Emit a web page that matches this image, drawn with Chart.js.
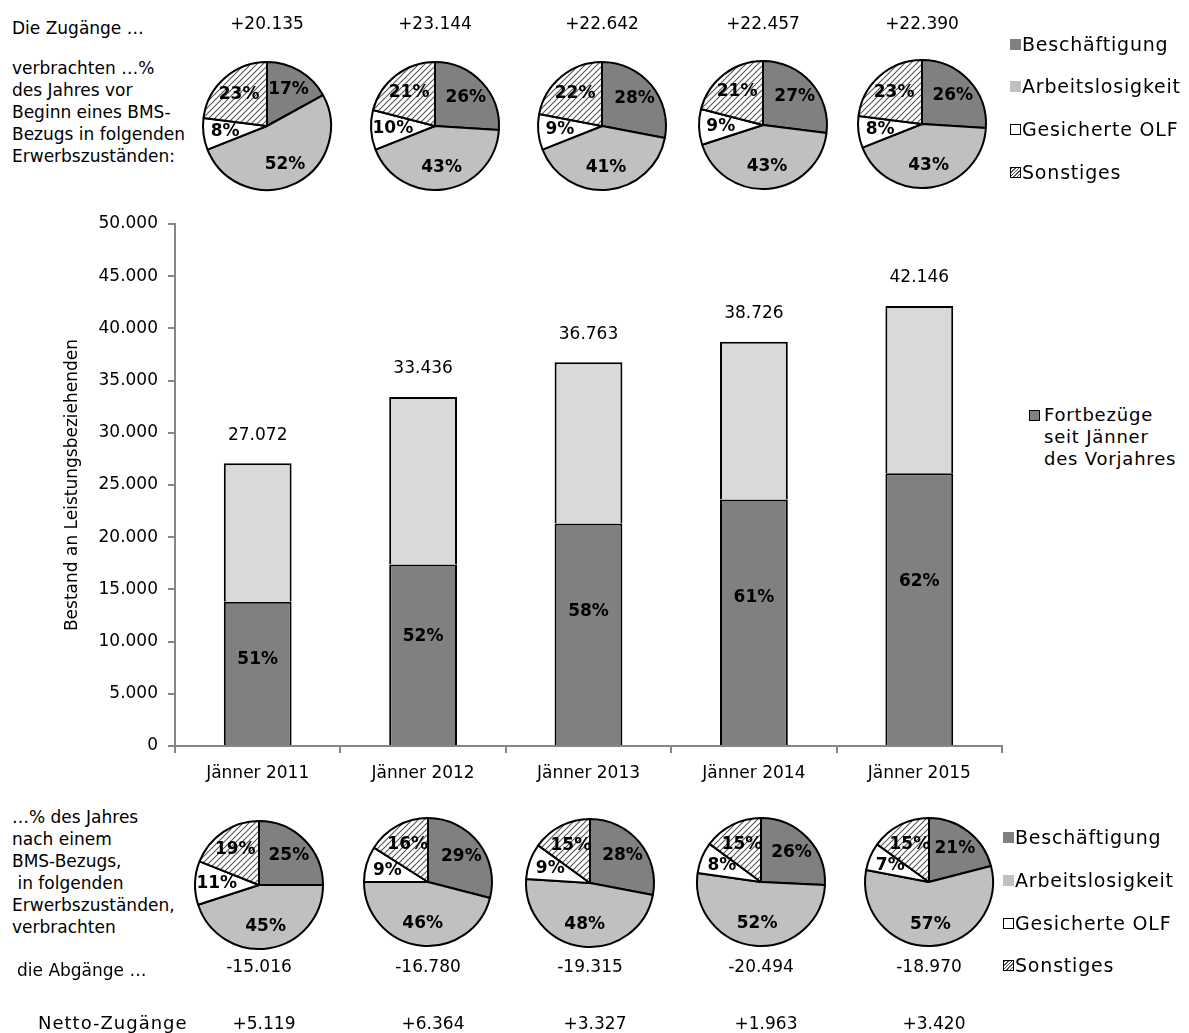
<!DOCTYPE html>
<html>
<head>
<meta charset="utf-8">
<script src="https://cdn.jsdelivr.net/npm/chart.js@4/dist/chart.umd.min.js"></script>
<style>
body{margin:0;background:#fff;color:#000;font-family:"DejaVu Sans",sans-serif;}
#wrap{position:relative;width:1189px;height:1033px;overflow:hidden;}
.t{position:absolute;white-space:pre;line-height:22px;font-size:17px;}
.num{position:absolute;width:140px;text-align:center;line-height:22px;font-size:17px;}
.leg{position:absolute;font-size:19px;line-height:22px;white-space:pre;letter-spacing:0.8px;}
.sq{position:absolute;width:11px;height:11px;box-sizing:border-box;}
canvas.pie{position:absolute;}
#bars{position:absolute;left:0;top:200px;}
</style>
</head>
<body>
<div id="wrap">
  <canvas id="bars" width="1010" height="600"></canvas>
</div>
<script>
// --- data ---
var years = ["Jänner 2011", "Jänner 2012", "Jänner 2013", "Jänner 2014", "Jänner 2015"];
var fortbezug = [13810, 17390, 21320, 23620, 26130];   // dunkel, seit Jänner des Vorjahres
var restBestand = [13262, 16046, 15443, 15106, 16016];  // hell
var totalLabels = ["27.072", "33.436", "36.763", "38.726", "42.146"];
var shareLabels = ["51%", "52%", "58%", "61%", "62%"];

var zugaenge = ["+20.135", "+23.144", "+22.642", "+22.457", "+22.390"];
var abgaenge = ["-15.016", "-16.780", "-19.315", "-20.494", "-18.970"];
var netto = ["+5.119", "+6.364", "+3.327", "+1.963", "+3.420"];

var states = ["Beschäftigung", "Arbeitslosigkeit", "Gesicherte OLF", "Sonstiges"];
// % des Jahres vor Beginn des Bezugs
var vorher = [[17, 52, 8, 23], [26, 43, 10, 21], [28, 41, 9, 22], [27, 43, 9, 21], [26, 43, 8, 23]];
// % des Jahres nach dem Bezug
var nachher = [[25, 45, 11, 19], [29, 46, 9, 16], [28, 48, 9, 15], [26, 52, 8, 15], [21, 57, 7, 15]];

// --- layout ---
var topPies = [[267, 126], [435, 126], [602, 126], [763, 125], [922, 124]];
var botPies = [[259, 885], [428, 882], [590, 883], [761, 882], [929, 882]];
var FONT = '"DejaVu Sans", sans-serif';

var wrap = document.getElementById("wrap");

function hatchPattern(){
	var c = document.createElement("canvas");
	c.width = 6; c.height = 6;
	var g = c.getContext("2d");
	g.fillStyle = "#fff";
	g.fillRect(0, 0, 6, 6);
	g.strokeStyle = "#555";
	g.lineWidth = 1.1;
	g.beginPath();
	g.moveTo(-1, 7); g.lineTo(7, -1);
	g.moveTo(-1, 1); g.lineTo(1, -1);
	g.moveTo(5, 7); g.lineTo(7, 5);
	g.stroke();
	return g.createPattern(c, "repeat");
}
var hatch = hatchPattern();
var pieColors = ["#808080", "#c0c0c0", "#ffffff", hatch];

function addText(cls, x, y, str, extra){
	var d = document.createElement("div");
	d.className = cls;
	d.style.left = x + "px";
	d.style.top = y + "px";
	d.textContent = str;
	if(extra){ Object.assign(d.style, extra); }
	wrap.appendChild(d);
	return d;
}

function addLegend(x, ys){
	states.forEach(function(s, i){
		var sq = document.createElement("div");
		sq.className = "sq";
		sq.style.left = x + "px";
		sq.style.top = (ys[i] - 5) + "px";
		if(i == 0){ sq.style.background = "#808080"; }
		if(i == 1){ sq.style.background = "#c0c0c0"; }
		if(i == 2){ sq.style.background = "#fff"; sq.style.border = "1.5px solid #000"; }
		if(i == 3){
			sq.style.border = "1.5px solid #000";
			sq.style.background = "repeating-linear-gradient(-45deg,#fff 0 1.5px,#555 1.5px 2.5px)";
		}
		wrap.appendChild(sq);
		addText("leg", x + 12, ys[i] - 11, s);
	});
}

var pieLabels = {
	id: "pieLabels",
	afterDatasetsDraw: function(chart){
		var ctx = chart.ctx;
		var meta = chart.getDatasetMeta(0);
		var vals = chart.data.datasets[0].data;
		ctx.save();
		ctx.font = "bold 17px " + FONT;
		ctx.textAlign = "center";
		ctx.textBaseline = "middle";
		ctx.fillStyle = "#000";
		meta.data.forEach(function(arc, i){
			var p = arc.getProps(["x", "y", "startAngle", "endAngle", "outerRadius"], true);
			var a = (p.startAngle + p.endAngle) / 2;
			var r = p.outerRadius * 0.66;
			ctx.fillText(vals[i] + "%", p.x + Math.cos(a) * r, p.y + Math.sin(a) * r);
		});
		ctx.restore();
	}
};

function makePie(center, values){
	var c = document.createElement("canvas");
	c.className = "pie";
	c.width = 150; c.height = 150;
	c.style.left = (center[0] - 75) + "px";
	c.style.top = (center[1] - 75) + "px";
	wrap.appendChild(c);
	new Chart(c, {
		type: "pie",
		data: {
			labels: states,
			datasets: [{
				data: values,
				backgroundColor: pieColors,
				borderColor: "#000",
				borderWidth: 2
			}]
		},
		options: {
			responsive: false,
			animation: false,
			devicePixelRatio: 1,
			radius: 64,
			plugins: { legend: { display: false }, tooltip: { enabled: false } }
		},
		plugins: [pieLabels]
	});
}

topPies.forEach(function(p, i){
	makePie(p, vorher[i]);
	addText("num", p[0] - 70, 12, zugaenge[i]);
});
botPies.forEach(function(p, i){
	makePie(p, nachher[i]);
	addText("num", p[0] - 70, 955, abgaenge[i]);
	addText("num", p[0] - 70 + 5, 1012, netto[i]);
});

addText("t", 12, 17, "Die Zugänge …");
addText("t", 12, 57, "verbrachten …%\ndes Jahres vor\nBeginn eines BMS-\nBezugs in folgenden\nErwerbszuständen:");
addText("t", 12, 806, "…% des Jahres\nnach einem\nBMS-Bezugs,\n in folgenden\nErwerbszuständen,\nverbrachten");
addText("t", 17, 959, "die Abgänge …");
addText("t", 38, 1012, "Netto-Zugänge", { fontSize: "18px", letterSpacing: "1px" });

addLegend(1010, [44, 86, 129, 172]);
addLegend(1003, [837, 880, 923, 965]);

// middle legend
var msq = document.createElement("div");
msq.className = "sq";
msq.style.left = "1029px"; msq.style.top = "410px";
msq.style.background = "#808080"; msq.style.border = "1.5px solid #000";
wrap.appendChild(msq);
addText("leg", 1044, 404, "Fortbezüge\nseit Jänner\ndes Vorjahres", { fontSize: "18px" });

// --- main stacked bars ---
function fmt(v){
	if(v == 0){ return "0"; }
	var s = String(v);
	return s.slice(0, s.length - 3) + "." + s.slice(-3);
}

var barLabels = {
	id: "barLabels",
	afterDatasetsDraw: function(chart){
		var ctx = chart.ctx;
		var dark = chart.getDatasetMeta(0).data;
		var light = chart.getDatasetMeta(1).data;
		ctx.save();
		ctx.textAlign = "center";
		ctx.textBaseline = "middle";
		ctx.fillStyle = "#000";
		dark.forEach(function(bar, i){
			ctx.font = "bold 17px " + FONT;
			ctx.fillText(shareLabels[i], bar.x, bar.base - 0.6 * (bar.base - bar.y));
			ctx.font = "17px " + FONT;
			ctx.fillText(totalLabels[i], light[i].x, light[i].y - 28);
		});
		ctx.restore();
	}
};

new Chart(document.getElementById("bars"), {
	type: "bar",
	data: {
		labels: years,
		datasets: [
			{
				label: "Fortbezüge seit Jänner des Vorjahres",
				data: fortbezug,
				backgroundColor: "#808080",
				borderColor: "#000",
				borderWidth: 2
			},
			{
				label: "Rest",
				data: restBestand,
				backgroundColor: "#d9d9d9",
				borderColor: "#000",
				borderWidth: 2
			}
		]
	},
	options: {
		responsive: false,
		animation: false,
		devicePixelRatio: 1,
		layout: { padding: { left: 0, top: 24, right: 8, bottom: 0 } },
		datasets: { bar: { categoryPercentage: 0.82, barPercentage: 0.5 } },
		plugins: { legend: { display: false }, tooltip: { enabled: false } },
		scales: {
			x: {
				stacked: true,
				grid: { drawOnChartArea: false, offset: true, tickLength: 7, color: "#868686", lineWidth: 2 },
				border: { color: "#868686", width: 2 },
				ticks: { color: "#000", font: { family: FONT, size: 17 }, padding: 10, maxRotation: 0 },
				afterFit: function(s){ s.height = 54; }
			},
			y: {
				stacked: true,
				min: 0,
				max: 50000,
				grid: { drawOnChartArea: false, tickLength: 7, color: "#868686", lineWidth: 2 },
				border: { color: "#868686", width: 2 },
				ticks: { stepSize: 5000, color: "#000", font: { family: FONT, size: 17 }, padding: 10, callback: fmt },
				title: { display: true, text: "Bestand an Leistungsbeziehenden", color: "#000", font: { family: FONT, size: 17 }, padding: { top: 62 } },
				afterFit: function(s){ s.width = 175; }
			}
		}
	},
	plugins: [barLabels]
});
</script>
</body>
</html>
